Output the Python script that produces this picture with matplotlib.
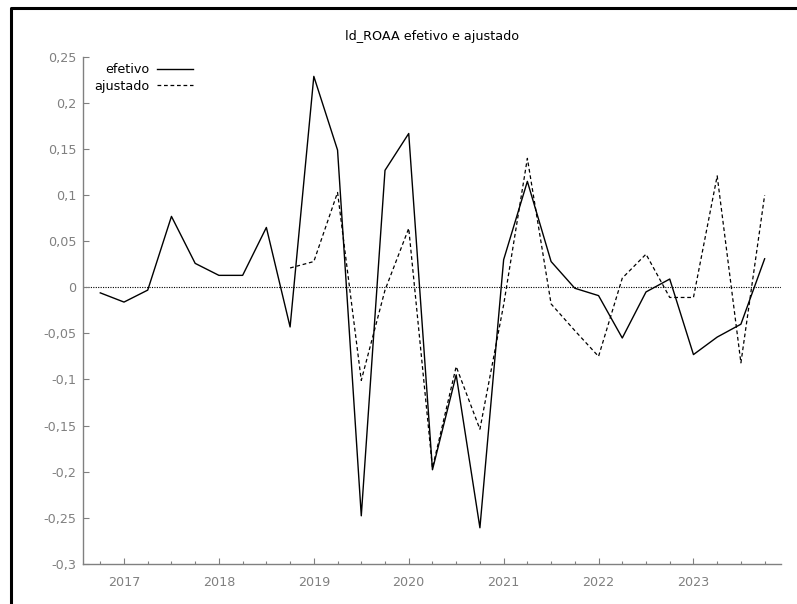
import numpy as np
import matplotlib
matplotlib.use("Agg")
import matplotlib.pyplot as plt
from matplotlib.lines import Line2D
from matplotlib.ticker import FuncFormatter, FixedLocator

# quarterly sample 2016:4 - 2023:4
quarters = ["2016:4"] + ["%d:%d" % (y, q) for y in range(2017, 2024) for q in range(1, 5)]

efetivo = [-0.006, -0.016, -0.003, 0.077, 0.026, 0.013, 0.013, 0.065,
           -0.043, 0.229, 0.149, -0.248, 0.127, 0.167, -0.198, -0.095,
           -0.261, 0.030, 0.115, 0.028, -0.001, -0.009, -0.055, -0.005,
           0.009, -0.073, -0.054, -0.040, 0.031]

ajustado = [np.nan] * 8 + [0.021, 0.028, 0.103, -0.101, -0.003, 0.064, -0.196,
                           -0.086, -0.154, -0.019, 0.140, -0.018, -0.047, -0.075,
                           0.010, 0.036, -0.011, -0.011, 0.121, -0.082, 0.100]

year_ticks = [2017, 2018, 2019, 2020, 2021, 2022, 2023]
y_ticks = [-0.3, -0.25, -0.2, -0.15, -0.1, -0.05, 0, 0.05, 0.1, 0.15, 0.2, 0.25]

# gretl puts quarter q of year y at y + (q-1)/4
t = np.array([int(s.split(":")[0]) + (int(s.split(":")[1]) - 1) / 4.0 for s in quarters])

gray = "#808080"
plt.rcParams["font.family"] = ["DejaVu Sans"]
plt.rcParams["font.size"] = 9.2

fig = plt.figure(figsize=(7.97, 6.04), dpi=100)
ax = fig.add_axes([0.1045, 0.0667, 0.8755, 0.8389])

ax.axhline(0, color="black", lw=0.8, linestyle=(0, (1, 1.2)), zorder=1)
ax.plot(t, efetivo, color="black", lw=1.0, label="efetivo", zorder=3)
ax.plot(t, ajustado, color="black", lw=0.9, dashes=(3.0, 2.2), label="ajustado", zorder=2)

ax.set_xlim(2016.571, 2023.923)
ax.set_ylim(-0.3, 0.25)

ax.xaxis.set_major_locator(FixedLocator(year_ticks))
ax.xaxis.set_minor_locator(FixedLocator(t))
ax.yaxis.set_major_locator(FixedLocator(y_ticks))
ax.yaxis.set_major_formatter(FuncFormatter(lambda v, p: ("%g" % round(v, 2)).replace(".", ",")))

for side in ("top", "right"):
    ax.spines[side].set_visible(False)
for side in ("left", "bottom"):
    ax.spines[side].set_color(gray)
    ax.spines[side].set_linewidth(1.0)

ax.tick_params(which="both", direction="in", color=gray, labelcolor=gray, width=0.8)
ax.tick_params(axis="y", which="major", length=4.0, pad=5)
ax.tick_params(axis="x", which="major", length=4.0, pad=9)
ax.tick_params(axis="x", which="minor", length=2.0)

ax.set_title("ld_ROAA efetivo e ajustado", color="black", fontsize=9.2, pad=12.5)

ax.legend(loc="upper left", bbox_to_anchor=(0.016, 0.988), frameon=False,
          markerfirst=False, borderaxespad=0, borderpad=0,
          handlelength=2.8, handletextpad=0.6, labelspacing=0.3)

# window frame on the left and top edges
fig.add_artist(Line2D([10.5 / 797, 10.5 / 797, 1.0], [0.0, 1 - 7.5 / 604, 1 - 7.5 / 604],
                      transform=fig.transFigure, color="black", lw=2.2))

fig.savefig("out.png", dpi=100)
